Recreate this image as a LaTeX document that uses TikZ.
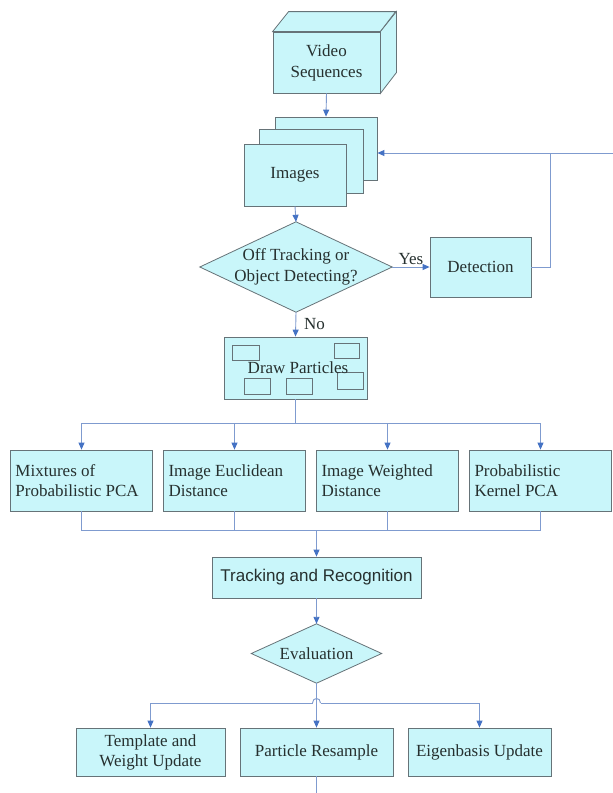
\documentclass[tikz,border=0pt]{standalone}
\usepackage{fontspec}
\setmainfont{Liberation Serif}
\newfontfamily\arialf{Liberation Sans}
\usetikzlibrary{arrows.meta,calc}
\definecolor{fillc}{HTML}{C9F6FA}
\definecolor{edgec}{HTML}{667378}
\definecolor{linec}{HTML}{7F9BCF}
\definecolor{tipc}{HTML}{4472C4}
\definecolor{textc}{HTML}{26302F}
\begin{document}
\begin{tikzpicture}[x=1pt,y=-1pt,
  txt/.style={font=\fontsize{17}{20}\selectfont, align=center, inner sep=0pt, text=textc},
  box/.style={txt, draw=edgec, fill=fillc, line width=0.8pt},
  mbox/.style={box, text width=132pt, align=flush left, minimum width=142pt, minimum height=61pt},
  bbox/.style={box, minimum height=48pt},
  diam/.style={draw=edgec, fill=fillc, line width=0.8pt},
  conn/.style={draw=linec, line width=0.9pt},
  arr/.style={conn, -{Triangle[length=7pt,width=6pt,color=tipc]}}]
\useasboundingbox[fill=white] (0,0) rectangle (613,793);

% Video sequences cube
\node[box, minimum width=107pt, minimum height=61pt] (vs) at (326.5,62.5) {Video\\[1pt]Sequences};
\filldraw[diam] (vs.north west) -- ++(16,-20) -- ++(107,0) -- (vs.north east) -- cycle;
\filldraw[diam] (vs.north east) -- ++(16,-20) -- ++(0,61) -- (vs.south east) -- cycle;

% Images stack
\node[box, minimum width=102pt, minimum height=63pt] (ib) at (326,148.5) {};
\node[box, minimum width=104pt, minimum height=64pt] (im) at (311,161) {};
\node[box, minimum width=102pt, minimum height=62pt] (img) at (295,175) {Images};

% Decision
\node[inner sep=0pt, minimum width=192pt, minimum height=90pt] (dec) at (296,267) {};
\filldraw[diam] (dec.north) -- (dec.east) -- (dec.south) -- (dec.west) -- cycle;
\node[txt, font=\fontsize{17}{21}\selectfont] (dect) at (dec.center) {Off Tracking or\\Object Detecting?};

\node[box, minimum width=101pt, minimum height=60pt] (det) at (480.5,267) {Detection};

% Draw particles
\node[box, minimum width=143pt, minimum height=62pt] (dp) at (295.5,368) {};
\draw[edgec, line width=0.8pt] (232,345) rectangle (259,360);
\draw[edgec, line width=0.8pt] (334,343) rectangle (359,358);
\draw[edgec, line width=0.8pt] (337,372) rectangle (363,389);
\draw[edgec, line width=0.8pt] (244,378) rectangle (270,394);
\draw[edgec, line width=0.8pt] (286,378) rectangle (312,394);
\node[txt] (dpt) at (298,368) {Draw Particles};

% Four methods
\node[mbox] (m1) at (81.5,480.5) {Mixtures of\\Probabilistic PCA};
\node[mbox] (m2) at (234.5,480.5) {Image Euclidean\\Distance};
\node[mbox] (m3) at (387.5,480.5) {Image Weighted\\Distance};
\node[mbox] (m4) at (540.5,480.5) {Probabilistic\\Kernel PCA};

% Tracking
\node[box, font=\arialf\fontsize{17}{20}\selectfont, minimum width=209pt, minimum height=41pt] (tr) at (316.5,577.5) {Tracking and Recognition};

% Evaluation
\node[inner sep=0pt, minimum width=130pt, minimum height=59pt] (ev) at (316.5,653.5) {};
\filldraw[diam] (ev.north) -- (ev.east) -- (ev.south) -- (ev.west) -- cycle;
\node[txt] (evt) at (ev.center) {Evaluation};

% Bottom boxes
\node[bbox, minimum width=149pt] (tw) at (150.5,752) {Template and\\Weight Update};
\node[bbox, minimum width=153pt] (pr) at (316.5,752) {Particle Resample};
\node[bbox, minimum width=143pt] (eu) at (479.5,752) {Eigenbasis Update};

% Connectors
\draw[arr] (vs.south) -- (ib.north);
\coordinate (re) at (613,153);
\coordinate (fj) at (550,153);
\draw[arr] (re) -- (ib.east |- re);
\draw[conn] (det.east) -| (fj);
\draw[arr] (img.south) -- (dec.north);
\draw[arr] (dec.east) -- (det.west) node[midway, above=2pt, txt] {Yes};
\draw[arr] (dec.south) -- (dp.north) node[midway, right=8pt, txt] {No};

\coordinate (sp) at ($(dp.south)+(0,24)$);
\draw[conn] (dp.south) -- (sp);
\draw[arr] (sp) -| (m1.north);
\draw[arr] (sp) -| (m2.north);
\draw[arr] (sp) -| (m3.north);
\draw[arr] (sp) -| (m4.north);

\coordinate (jn) at (316.5,530);
\draw[conn] (m1.south) |- (jn);
\draw[conn] (m4.south) |- (jn);
\draw[conn] (m2.south) -- (m2.south |- jn);
\draw[conn] (m3.south) -- (m3.south |- jn);
\draw[arr] (jn) -- (tr.north);

\draw[arr] (tr.south) -- (ev.north);
\draw[arr] (ev.south) -- (pr.north);
\coordinate (hb) at (316.5,703);
\draw[arr] ($(hb)+(-4,0)$) -| (tw.north);
\draw[arr] ($(hb)+(4,0)$) -| (eu.north);
\draw[conn] ($(hb)+(-4,0)$) .. controls ($(hb)+(-4,-6)$) and ($(hb)+(4,-6)$) .. ($(hb)+(4,0)$);
\coordinate (bot) at (316.5,793);
\draw[conn] (pr.south) -- (bot);
\end{tikzpicture}
\end{document}
